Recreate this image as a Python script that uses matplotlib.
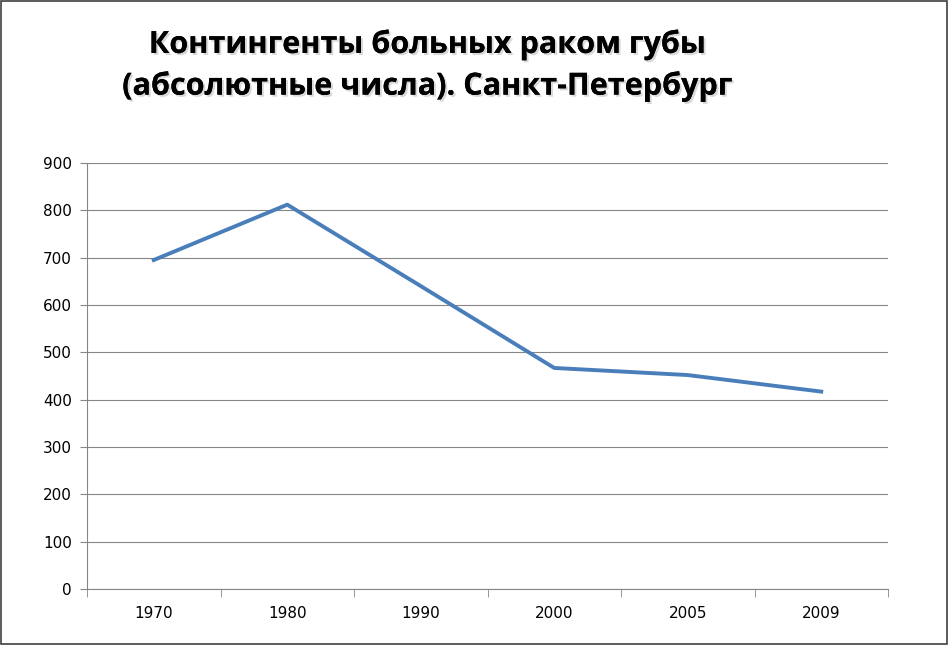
import matplotlib
matplotlib.use("Agg")
import matplotlib.pyplot as plt
import matplotlib.patheffects as pe

years = ["1970", "1980", "1990", "2000", "2005", "2009"]
values = [695, 812, 640, 467, 452, 417]
yticks = [0, 100, 200, 300, 400, 500, 600, 700, 800, 900]

fig = plt.figure(figsize=(9.48, 6.45), dpi=100)
fig.patches.append(plt.Rectangle((0.001, 0.001), 0.998, 0.997, transform=fig.transFigure,
                                 fill=False, edgecolor="#404040", linewidth=1.2))
ax = fig.add_axes([87/948, 1-589/645, (888-87)/948, (589-163)/645])
x = list(range(len(years)))
ax.plot(x, values, color="#4A7EBB", linewidth=2.8)
ax.set_xlim(-0.5, len(years)-0.5)
ax.set_ylim(0, 900)
ax.set_yticks(yticks)
ax.set_xticks(x)
ax.set_xticklabels(years)
ax.set_xticks([i-0.5 for i in range(len(years)+1)], minor=True)
ax.tick_params(axis="x", which="major", length=0, pad=12)
ax.tick_params(axis="x", which="minor", length=6, color="#868686")
ax.tick_params(axis="y", length=5, color="#868686", pad=6)
ax.tick_params(labelsize=11)
ax.grid(axis="y", color="#868686", linewidth=0.8)
ax.set_axisbelow(True)
for s in ["top", "right"]:
    ax.spines[s].set_visible(False)
for s in ["left", "bottom"]:
    ax.spines[s].set_color("#868686")
fig.text(0.45, 0.955, "Контингенты больных раком губы\n(абсолютные числа). Санкт-Петербург",
         ha="center", va="top", fontsize=22, fontweight="bold", family="Open Sans",
         linespacing=1.45,
         path_effects=[pe.withSimplePatchShadow(offset=(1.5, -1.5), alpha=0.15), pe.Normal()])
fig.savefig("out.png", dpi=100)
